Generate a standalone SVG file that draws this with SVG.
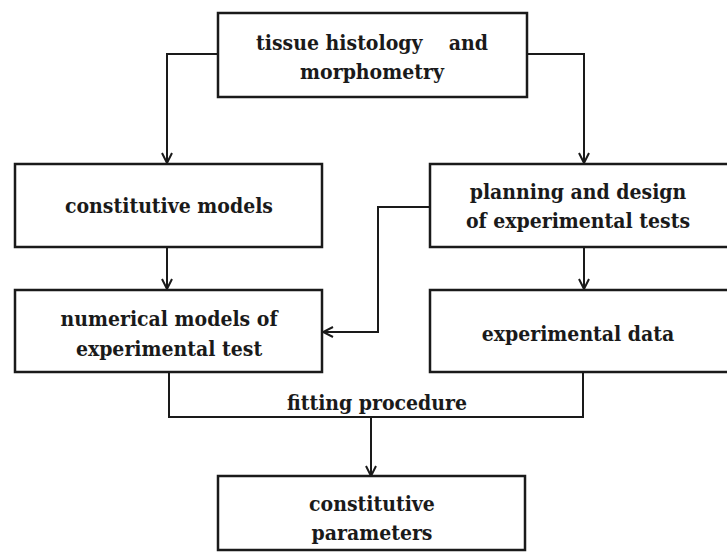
<svg xmlns="http://www.w3.org/2000/svg" width="727" height="555" viewBox="0 0 727 555">
<defs>
<style>
.box{fill:#fff;stroke:#1a1a1a;stroke-width:2.5}
.t{font-family:'DejaVu Serif Condensed','DejaVu Serif','Liberation Serif',serif;font-stretch:condensed;font-weight:700;font-size:21px;fill:#1a1a1a;text-anchor:middle}
.c{fill:none;stroke:#1a1a1a;stroke-width:2}
</style>
<marker id="ah" viewBox="0 0 12 12" refX="11" refY="6" markerWidth="12" markerHeight="12" markerUnits="userSpaceOnUse" orient="auto">
<path d="M1,1 L11,6 L1,11" fill="none" stroke="#1a1a1a" stroke-width="2"/>
</marker>
</defs>
<rect width="727" height="555" fill="#fff"/>
<g id="connectors">
<path class="c" d="M218,54 H167 V163" marker-end="url(#ah)"/>
<path class="c" d="M527,54 H584 V163" marker-end="url(#ah)"/>
<path class="c" d="M167,247 V289" marker-end="url(#ah)"/>
<path class="c" d="M584,247 V289" marker-end="url(#ah)"/>
<path class="c" d="M430,207 H378 V332 H323" marker-end="url(#ah)"/>
<path class="c" d="M169,372 V417 H583 V372"/>
<path class="c" d="M371,417 V476" marker-end="url(#ah)"/>
</g>
<g id="n-tissue">
<rect class="box" x="218" y="13" width="309" height="84"/>
<text class="t" x="372" y="50" xml:space="preserve">tissue histology    and</text>
<text class="t" x="372" y="79">morphometry</text>
</g>
<g id="n-constitutive-models">
<rect class="box" x="15" y="164" width="307" height="83"/>
<text class="t" x="169" y="213">constitutive models</text>
</g>
<g id="n-planning">
<rect class="box" x="430" y="164" width="300" height="83"/>
<text class="t" x="578" y="199">planning and design</text>
<text class="t" x="578" y="228">of experimental tests</text>
</g>
<g id="n-numerical">
<rect class="box" x="15" y="290" width="307" height="82"/>
<text class="t" x="169" y="326">numerical models of</text>
<text class="t" x="169" y="356">experimental test</text>
</g>
<g id="n-expdata">
<rect class="box" x="430" y="290" width="300" height="82"/>
<text class="t" x="578" y="341">experimental data</text>
</g>
<g id="n-fitting-label">
<text class="t" x="377" y="410">fitting procedure</text>
</g>
<g id="n-parameters">
<rect class="box" x="218" y="476" width="307" height="74"/>
<text class="t" x="372" y="511">constitutive</text>
<text class="t" x="372" y="540">parameters</text>
</g>
</svg>
